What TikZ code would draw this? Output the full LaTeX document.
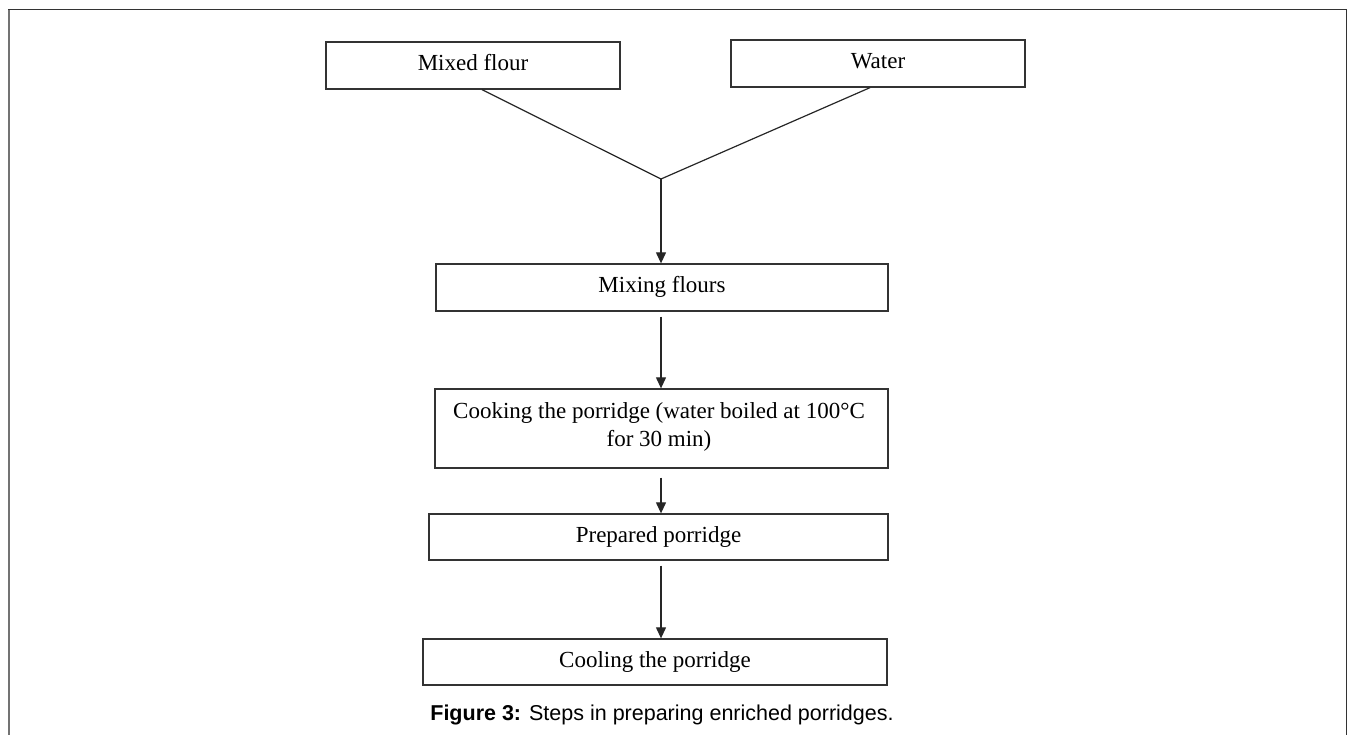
\documentclass[tikz,border=0pt]{standalone}
\usepackage{fontspec}
\setmainfont{Liberation Serif}
\newfontfamily\capfont{Liberation Sans}
\usetikzlibrary{arrows.meta}
\begin{document}
\begin{tikzpicture}[x=1pt,y=-1pt,
  box/.style={draw=black!80, line width=1.3pt, rectangle, inner sep=0pt,
    font=\fontsize{23}{28}\selectfont, text height=16pt, text depth=5pt},
  txt/.style={inner sep=0pt, font=\fontsize{23}{28}\selectfont},
  conn/.style={draw=black!85, line width=1.2pt},
  arr/.style={conn, -{Triangle[length=11pt,width=10pt]}},
  capstyle/.style={inner sep=0pt, font=\capfont\fontsize{21.5}{26}\selectfont}]
\useasboundingbox (0,0) rectangle (1349,735);
% frame
\draw[line width=1.8pt, black!55] (9,735) -- (9,9.5);
\draw[line width=1.8pt, black!80] (8.1,9.5) -- (1346.5,9.5) -- (1346.5,735);
% boxes
\node[box, minimum width=294pt, minimum height=47pt] (flour) at (473,65.5) {Mixed flour};
\node[box, minimum width=294pt, minimum height=47pt] (water) at (878,63.5) {Water};
\coordinate (merge) at (661,179);
\node[box, minimum width=452pt, minimum height=47pt] (mix) at (662,287.5) {Mixing flours};
\node[box, minimum width=453pt, minimum height=79pt] (cook) at (661.5,428.5) {};
\node[txt, anchor=north, align=center] (cooktxt) at (659,402) {Cooking the porridge (water boiled at 100°C\\for 30 min)};
\node[box, minimum width=459pt, minimum height=46pt] (prep) at (658.5,537) {Prepared porridge};
\node[box, minimum width=464pt, minimum height=46pt] (cool) at (655,662) {Cooling the porridge};
% connectors
\draw[conn] ([xshift=9pt]flour.south) -- (merge);
\draw[conn] ([xshift=-8pt]water.south) -- (merge);
\draw[arr] (merge) -- (mix.north -| merge);
\draw[arr, shorten <=5pt] (mix.south -| merge) -- (cook.north -| merge);
\draw[arr, shorten <=9pt] (cook.south -| merge) -- (prep.north -| merge);
\draw[arr, shorten <=5pt] (prep.south -| merge) -- (cool.north -| merge);
% caption
\node[capstyle, anchor=base] (cap) at (662,720) {\textbf{Figure 3:} Steps in preparing enriched porridges.};
\end{tikzpicture}
\end{document}
